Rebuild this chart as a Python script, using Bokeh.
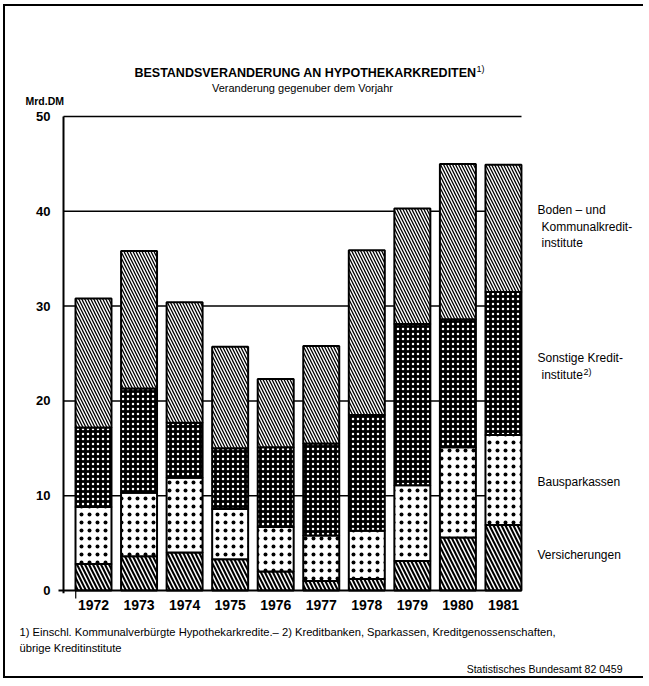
from bokeh.plotting import figure
from bokeh.models import Range1d, ColumnDataSource
from bokeh.core.properties import value
from bokeh.embed import file_html
from bokeh.resources import INLINE

# ---------------- data (Mrd. DM) ----------------
years = ["1972", "1973", "1974", "1975", "1976", "1977", "1978", "1979", "1980", "1981"]
versicherungen = [2.8, 3.6, 4.0, 3.3, 2.0, 1.0, 1.2, 3.1, 5.6, 6.9]
bausparkassen = [6.0, 6.7, 7.9, 5.3, 4.7, 4.8, 5.1, 8.0, 9.5, 9.5]
sonstige = [8.4, 11.0, 5.8, 6.4, 8.4, 9.7, 12.2, 17.0, 13.5, 15.1]
boden = [13.6, 14.5, 12.7, 10.7, 7.2, 10.3, 17.4, 12.2, 16.4, 13.4]
y_ticks = [0, 10, 20, 30, 40, 50]

FONT = "Liberation Sans"

# ---------------- layout constants (page pixels) ----------------
OX, OY = 5, 6          # canvas offset on the page
W, H = 640, 674
PX_X = 45.55           # px per category step
PX_Y = 9.48            # px per Mrd. DM
C0 = 93                # page x of the first category
Z0 = 590               # page y of the zero line


def dx(sx):
    return (sx - C0) / PX_X


def dy(sy):
    return (Z0 - sy) / PX_Y


p = figure(width=W, height=H, title=None,
           x_range=Range1d(dx(OX), dx(OX + W)), y_range=Range1d(dy(OY + H), dy(OY)),
           output_backend="svg", toolbar_location=None,
           x_axis_location=None, y_axis_location=None,
           min_border=0, min_border_left=0, min_border_right=0,
           min_border_top=0, min_border_bottom=0)
p.styles = {"border-left": "2px solid black", "border-top": "2px solid black",
            "border-bottom": "2px solid black", "margin-left": "3px", "margin-top": "4px"}
p.outline_line_color = None
p.grid.visible = False
p.background_fill_color = "white"
p.border_fill_color = "white"

xa = dx(63)        # y-axis position
x_end = dx(521)    # right end of the grid

# grid lines
grid_y = y_ticks[1:]
p.segment(x0=[xa] * len(grid_y), x1=[x_end] * len(grid_y), y0=grid_y, y1=grid_y,
          line_color="black", line_width=1.5)

# bars
src = ColumnDataSource(dict(x=list(range(len(years))), vers=versicherungen,
                            baus=bausparkassen, sonst=sonstige, boden=boden))
p.vbar_stack(["vers", "baus", "sonst", "boden"], x="x", width=0.79, source=src,
             fill_color=["black", "white", "black", "white"],
             hatch_color=["white", "black", "white", "black"],
             hatch_pattern=["\\", ".", ".", "\\"],
             hatch_scale=[8, 8, 5, 6],
             hatch_weight=[1.5, 1.5, 1.2, 1.3],
             line_color="black", line_width=2)

# axis lines
p.segment(x0=[xa], x1=[xa], y0=[y_ticks[0] - 0.3], y1=[y_ticks[-1]], line_color="black", line_width=2)
p.segment(x0=[dx(58)], x1=[x_end], y0=[y_ticks[0]], y1=[y_ticks[0]], line_color="black", line_width=2)
p.segment(x0=[-0.39], x1=[-0.39], y0=[0], y1=[dy(598)], line_color="black", line_width=1.2)

# tick labels
p.text(x=[dx(50)] * len(y_ticks), y=y_ticks, text=[str(t) for t in y_ticks],
       text_font=value(FONT), text_font_size="13px", text_font_style="bold",
       text_align="right", text_baseline="middle", text_color="black")
p.text(x=list(range(len(years))), y=[dy(604)] * len(years), text=years,
       text_font=value(FONT), text_font_size="14px", text_font_style="bold",
       text_align="center", text_baseline="middle", text_color="black")


def txt(s, sx, sy, size, align="left", bold=False):
    p.text(x=[dx(sx)], y=[dy(sy)], text=[s], text_font=value(FONT),
           text_font_size=f"{size}px", text_font_style="bold" if bold else "normal",
           text_align=align, text_baseline="middle", text_color="black")


txt("BESTANDSVERANDERUNG AN HYPOTHEKARKREDITEN", 305, 72, 12.5, "center", True)
txt("1)", 476, 68, 9)
txt("Veranderung gegenuber dem Vorjahr", 302, 87, 11, "center")
txt("Mrd.DM", 25, 100, 10.5, bold=True)

txt("Boden – und", 537, 209, 12)
txt("Kommunalkredit-", 541, 226, 12)
txt("institute", 541, 242, 12)
txt("Sonstige Kredit-", 537, 357, 12)
txt("institute", 541, 374, 12)
txt("2)", 583, 371, 9)
txt("Bausparkassen", 537, 481, 12)
txt("Versicherungen", 537, 554, 12)

txt("1) Einschl. Kommunalverbürgte Hypothekarkredite.– 2) Kreditbanken, Sparkassen, Kreditgenossenschaften,",
    19, 631, 11.2)
txt("übrige Kreditinstitute", 19, 647, 11.2)
txt("Statistisches Bundesamt 82 0459", 622, 668, 10.5, "right")

open("out.html", "w").write(file_html(p, INLINE))
